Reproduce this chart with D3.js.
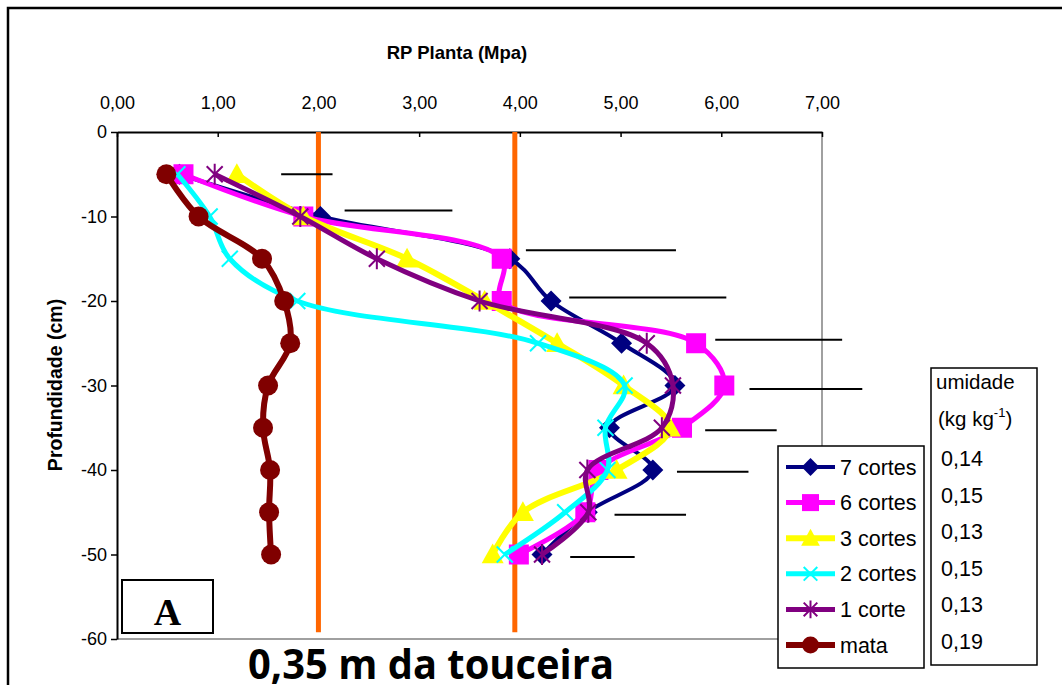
<!DOCTYPE html>
<html><head><meta charset="utf-8">
<script src="https://cdn.jsdelivr.net/npm/d3@7"></script>
<style>body{margin:0;background:#fff;overflow:hidden}</style>
</head><body>
<svg id="chart" width="1062" height="685"></svg>
<script>
// ---------- data ----------
const depths = [-5,-10,-15,-20,-25,-30,-35,-40,-45,-50];
const seriesNames = ["7 cortes","6 cortes","3 cortes","2 cortes","1 corte","mata"];
const cortes7 = [0.62,2.02,3.90,4.31,5.01,5.54,4.89,5.32,4.67,4.22];
const cortes6 = [0.66,1.85,3.82,3.82,5.75,6.03,5.61,4.78,4.65,3.99];
const cortes3 = [1.19,1.85,2.88,3.65,4.37,5.03,5.49,4.96,4.03,3.73];
const cortes2 = [0.60,0.92,1.12,1.79,4.18,5.04,4.85,4.87,4.45,3.85];
const corte1  = [0.97,1.82,2.58,3.60,5.26,5.52,5.41,4.67,4.68,4.22];
const mata    = [0.49,0.81,1.44,1.66,1.72,1.50,1.45,1.52,1.51,1.53];
const umidade = ["0,14","0,15","0,13","0,15","0,13","0,19"];
const xTicks = [0,1,2,3,4,5,6,7];
const yTicks = [0,-10,-20,-30,-40,-50,-60];
const refLines = [2, 3.95];
const barDepths = [-5,-9.3,-14,-19.6,-24.6,-30.4,-35.3,-40.2,-45.3,-50.3];
const barStart  = [1.63,2.26,4.06,4.49,5.94,6.28,5.84,5.56,4.94,4.50];
const barEnd    = [2.14,3.33,5.55,6.05,7.20,7.40,6.55,6.27,5.65,5.14];

const colors = ["#000080","#FF00FF","#FFFF00","#00FFFF","#800080","#800000"];
const markers = ["diamond","square","triangle","cross","asterisk","circle"];
const values = [cortes7, cortes6, cortes3, cortes2, corte1, mata];

// ---------- layout ----------
const svg = d3.select("#chart");
const x = d3.scaleLinear().domain([0,7]).range([117,822]);
const y = d3.scaleLinear().domain([0,-60]).range([132,639]);
const FONT = "Liberation Sans, Arial, sans-serif";

// outer frame
svg.append("rect").attr("x",8).attr("y",8).attr("width",1100).attr("height",700)
  .attr("fill","none").attr("stroke","#000").attr("stroke-width",2.5);

// plot border (right & bottom gray)
svg.append("line").attr("x1",x(7)).attr("x2",x(7)).attr("y1",y(0)).attr("y2",y(-60))
  .attr("stroke","#808080").attr("stroke-width",1.5);
svg.append("line").attr("x1",x(0)).attr("x2",x(7)).attr("y1",y(-60)).attr("y2",y(-60))
  .attr("stroke","#808080").attr("stroke-width",1.5);

// top axis
const xAxis = d3.axisTop(x).tickValues(xTicks).tickSizeInner(-5).tickSizeOuter(0).tickPadding(23)
  .tickFormat(d => d.toFixed(2).replace(".",","));
const gx = svg.append("g").attr("transform",`translate(0,${y(0)})`).call(xAxis);
gx.select(".domain").attr("stroke","#000").attr("stroke-width",2);
gx.selectAll(".tick line").attr("stroke","#000").attr("stroke-width",1.5);
gx.selectAll("text").attr("font-family",FONT).attr("font-size",18).attr("fill","#000");

// left axis
const yAxis = d3.axisLeft(y).tickValues(yTicks).tickSizeInner(6).tickSizeOuter(0).tickPadding(4)
  .tickFormat(d => String(d));
const gy = svg.append("g").attr("transform",`translate(${x(0)},0)`).call(yAxis);
gy.select(".domain").attr("stroke","#000").attr("stroke-width",2);
gy.selectAll(".tick line").attr("stroke","#000").attr("stroke-width",1.5);
gy.selectAll("text").attr("font-family",FONT).attr("font-size",18).attr("fill","#000");

// axis titles
svg.append("text").attr("x",457).attr("y",59).attr("text-anchor","middle")
  .attr("font-family",FONT).attr("font-weight","bold").attr("font-size",18.5).text("RP Planta (Mpa)");
svg.append("text").attr("transform",`translate(62,385) rotate(-90)`).attr("text-anchor","middle")
  .attr("font-family",FONT).attr("font-weight","bold").attr("font-size",19.5).text("Profundidade (cm)");

// orange reference lines
svg.selectAll(".ref").data(refLines).join("line")
  .attr("x1",d=>x(d)).attr("x2",d=>x(d)).attr("y1",y(0)).attr("y2",y(-59.2))
  .attr("stroke","#FF6600").attr("stroke-width",5);

// black horizontal bars
svg.selectAll(".bar").data(barDepths).join("line")
  .attr("x1",(d,i)=>x(barStart[i])).attr("x2",(d,i)=>x(barEnd[i]))
  .attr("y1",d=>y(d)).attr("y2",d=>y(d))
  .attr("stroke","#000").attr("stroke-width",2);

// box A
svg.append("rect").attr("x",122).attr("y",580).attr("width",91).attr("height",53)
  .attr("fill","#fff").attr("stroke","#000").attr("stroke-width",2);
svg.append("text").attr("x",167.5).attr("y",625).attr("text-anchor","middle")
  .attr("font-family","Liberation Serif, Times New Roman, serif").attr("font-weight","bold")
  .attr("font-size",38).text("A");

// marker drawer
function drawMarker(g, type, color, cx, cy, scale) {
  const s = scale || 1;
  if (type === "diamond") {
    const r = 10.5*s;
    g.append("path").attr("d",`M${cx},${cy-r}L${cx+r},${cy}L${cx},${cy+r}L${cx-r},${cy}Z`).attr("fill",color);
  } else if (type === "square") {
    const h = 10*s;
    g.append("rect").attr("x",cx-h).attr("y",cy-h).attr("width",2*h).attr("height",2*h).attr("fill",color);
  } else if (type === "triangle") {
    const h = 11*s;
    g.append("path").attr("d",`M${cx},${cy-h}L${cx+h},${cy+h*0.8}L${cx-h},${cy+h*0.8}Z`).attr("fill",color);
  } else if (type === "cross") {
    const h = 8*s;
    g.append("path").attr("d",`M${cx-h},${cy-h}L${cx+h},${cy+h}M${cx-h},${cy+h}L${cx+h},${cy-h}`)
      .attr("stroke",color).attr("stroke-width",2);
  } else if (type === "asterisk") {
    const h = 8*s;
    g.append("path").attr("d",`M${cx-h},${cy-h}L${cx+h},${cy+h}M${cx-h},${cy+h}L${cx+h},${cy-h}M${cx},${cy-h*1.3}L${cx},${cy+h*1.3}`)
      .attr("stroke",color).attr("stroke-width",2);
  } else if (type === "circle") {
    g.append("circle").attr("cx",cx).attr("cy",cy).attr("r",10*s).attr("fill",color);
  }
}

// series
const line = d3.line().x(d=>x(d[0])).y(d=>y(d[1])).curve(d3.curveCatmullRom.alpha(0.5));
const lineWidths = [4,5,6,5,5,6];
values.forEach((vals,i) => {
  const g = svg.append("g");
  const pts = vals.map((v,j)=>[v,depths[j]]);
  g.append("path").attr("d",line(pts)).attr("fill","none")
    .attr("stroke",colors[i]).attr("stroke-width",lineWidths[i]).attr("stroke-linejoin","round");
  pts.forEach(p => drawMarker(g, markers[i], colors[i], x(p[0]), y(p[1]), 1));
});

// legend
const lg = svg.append("g");
lg.append("rect").attr("x",778).attr("y",446).attr("width",146).attr("height",222)
  .attr("fill","#fff").attr("stroke","#000").attr("stroke-width",1.5);
seriesNames.forEach((n,i) => {
  const cy = 467 + i*35.6;
  lg.append("line").attr("x1",786).attr("x2",835).attr("y1",cy).attr("y2",cy)
    .attr("stroke",colors[i]).attr("stroke-width",lineWidths[i]);
  drawMarker(lg, markers[i], colors[i], 810.5, cy, 0.85);
  lg.append("text").attr("x",840).attr("y",cy+7.5).attr("font-family",FONT).attr("font-size",21.5).text(n);
});

// umidade box
const ub = svg.append("g");
ub.append("rect").attr("x",931).attr("y",368).attr("width",106).attr("height",297)
  .attr("fill","#fff").attr("stroke","#000").attr("stroke-width",1.5);
ub.append("text").attr("x",936).attr("y",389).attr("font-family",FONT).attr("font-size",20.5).text("umidade");
const kg = ub.append("text").attr("x",938).attr("y",426).attr("font-family",FONT).attr("font-size",20.5);
kg.append("tspan").text("(kg kg");
kg.append("tspan").attr("dy",-9).attr("font-size",13).text("-1");
kg.append("tspan").attr("dy",9).text(")");
umidade.forEach((u,i) => {
  ub.append("text").attr("x",941).attr("y",466 + i*36.5).attr("font-family",FONT).attr("font-size",21.5).text(u);
});

// bottom title
svg.append("text").attr("x",431).attr("y",679).attr("text-anchor","middle")
  .attr("font-family","Open Sans, Noto Sans, sans-serif").attr("font-weight","bold")
  .attr("font-size",42).attr("textLength",366).attr("lengthAdjust","spacingAndGlyphs")
  .text("0,35 m da touceira");
</script>
</body></html>
